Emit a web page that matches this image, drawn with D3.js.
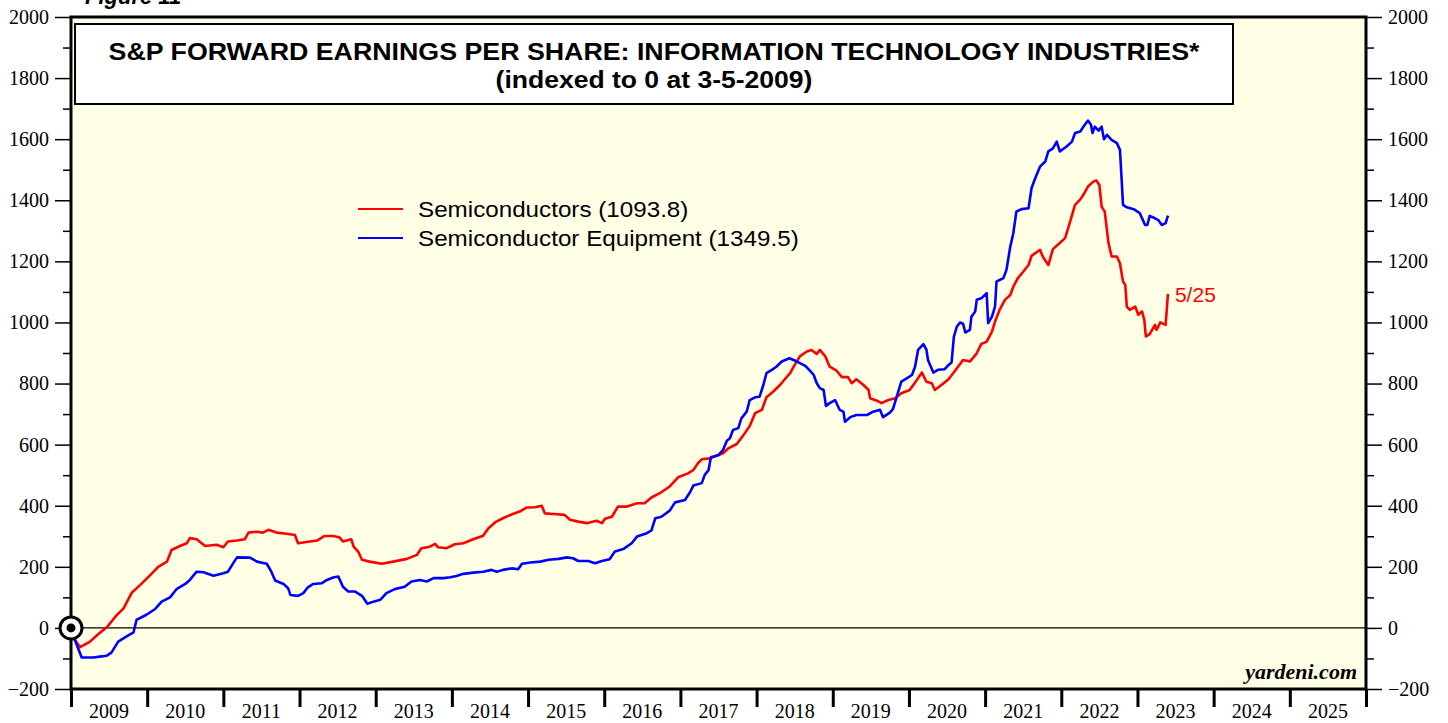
<!DOCTYPE html>
<html>
<head>
<meta charset="utf-8">
<script src="https://cdn.jsdelivr.net/npm/d3@7"></script>
<style>
  body { margin: 0; background: #fff; }
  svg { display: block; }
</style>
</head>
<body>
<div id="chart"></div>
<script>
// --- data (decimal year, index value) ---
const semi = [
  [2009.03,0],[2009.05,-39],[2009.12,-63],[2009.25,-45],[2009.36,-20],[2009.47,2],[2009.60,42],[2009.69,64],
  [2009.80,116],[2009.91,141],[2010.04,173],[2010.15,201],[2010.26,217],[2010.32,255],[2010.43,268],[2010.52,277],
  [2010.56,294],[2010.65,290],[2010.76,268],[2010.91,272],[2011.00,264],[2011.06,283],[2011.18,286],[2011.28,290],
  [2011.33,312],[2011.44,315],[2011.52,312],[2011.59,321],[2011.70,312],[2011.83,308],[2011.94,304],[2011.98,277],
  [2012.09,281],[2012.23,286],[2012.33,301],[2012.44,301],[2012.52,297],[2012.57,283],[2012.68,290],[2012.71,266],
  [2012.77,250],[2012.82,223],[2012.92,217],[2013.08,210],[2013.23,217],[2013.41,226],[2013.54,239],[2013.60,261],
  [2013.71,266],[2013.78,275],[2013.82,264],[2013.93,261],[2014.04,274],[2014.15,277],[2014.28,290],[2014.41,302],
  [2014.48,326],[2014.57,346],[2014.67,359],[2014.79,372],[2014.89,381],[2014.98,394],[2015.09,395],[2015.18,400],
  [2015.22,375],[2015.38,372],[2015.48,370],[2015.55,354],[2015.66,348],[2015.77,343],[2015.90,351],[2015.97,343],
  [2016.01,357],[2016.10,364],[2016.18,397],[2016.29,397],[2016.43,408],[2016.53,408],[2016.62,427],[2016.73,441],
  [2016.86,463],[2016.97,493],[2017.10,506],[2017.17,517],[2017.23,539],[2017.28,552],[2017.39,555],[2017.50,566],
  [2017.56,572],[2017.63,588],[2017.74,602],[2017.83,632],[2017.91,661],[2017.98,703],[2018.07,714],[2018.13,755],
  [2018.22,774],[2018.31,796],[2018.37,814],[2018.44,834],[2018.50,861],[2018.57,890],[2018.66,905],[2018.72,910],
  [2018.79,897],[2018.83,910],[2018.90,890],[2018.96,855],[2019.05,842],[2019.12,821],[2019.20,821],[2019.25,801],
  [2019.31,814],[2019.40,796],[2019.47,779],[2019.49,752],[2019.58,744],[2019.64,736],[2019.73,746],[2019.82,752],
  [2019.90,768],[2020.01,779],[2020.08,803],[2020.17,836],[2020.23,806],[2020.30,801],[2020.34,779],[2020.43,796],
  [2020.52,814],[2020.63,850],[2020.71,877],[2020.80,872],[2020.89,899],[2020.95,930],[2021.02,937],[2021.09,970],
  [2021.13,1003],[2021.19,1041],[2021.26,1074],[2021.33,1090],[2021.37,1117],[2021.43,1145],[2021.50,1166],
  [2021.57,1188],[2021.61,1218],[2021.72,1238],[2021.76,1214],[2021.83,1188],[2021.89,1240],[2021.98,1260],
  [2022.05,1276],[2022.11,1325],[2022.18,1385],[2022.25,1403],[2022.29,1418],[2022.35,1445],[2022.42,1461],
  [2022.46,1465],[2022.50,1450],[2022.53,1379],[2022.57,1363],[2022.62,1260],[2022.66,1216],[2022.73,1216],
  [2022.77,1194],[2022.81,1134],[2022.84,1123],[2022.86,1052],[2022.90,1041],[2022.97,1052],[2023.01,1025],
  [2023.06,1036],[2023.09,1008],[2023.11,954],[2023.16,962],[2023.23,992],[2023.25,976],[2023.30,1000],
  [2023.37,992],[2023.40,1093.8]
];

const equip = [
  [2009.03,0],[2009.05,-39],[2009.14,-97],[2009.29,-97],[2009.38,-94],[2009.47,-91],[2009.53,-81],[2009.62,-45],
  [2009.73,-28],[2009.82,-15],[2009.86,26],[2009.99,43],[2010.10,61],[2010.19,86],[2010.30,100],[2010.39,128],
  [2010.50,144],[2010.56,157],[2010.65,184],[2010.74,182],[2010.87,171],[2011.00,179],[2011.06,184],[2011.13,212],
  [2011.18,231],[2011.35,230],[2011.44,217],[2011.57,210],[2011.63,184],[2011.68,155],[2011.79,144],[2011.85,130],
  [2011.88,108],[2011.98,105],[2012.05,114],[2012.11,133],[2012.18,144],[2012.29,146],[2012.36,157],[2012.44,165],
  [2012.51,168],[2012.57,135],[2012.64,119],[2012.73,119],[2012.82,105],[2012.89,79],[2012.97,86],[2013.06,92],
  [2013.14,114],[2013.25,127],[2013.38,135],[2013.47,152],[2013.58,157],[2013.67,152],[2013.76,163],[2013.89,163],
  [2013.98,166],[2014.06,170],[2014.15,177],[2014.28,181],[2014.41,184],[2014.52,190],[2014.59,184],[2014.67,190],
  [2014.79,195],[2014.87,192],[2014.92,210],[2015.03,214],[2015.16,217],[2015.27,223],[2015.40,226],[2015.51,231],
  [2015.59,228],[2015.66,219],[2015.79,219],[2015.88,212],[2015.97,219],[2016.07,225],[2016.14,250],[2016.25,258],
  [2016.36,277],[2016.43,299],[2016.56,310],[2016.62,319],[2016.67,359],[2016.75,364],[2016.86,384],[2016.93,411],
  [2017.06,419],[2017.13,446],[2017.17,466],[2017.28,474],[2017.32,501],[2017.37,517],[2017.40,559],[2017.50,566],
  [2017.56,583],[2017.61,613],[2017.65,621],[2017.69,648],[2017.76,654],[2017.80,686],[2017.87,708],[2017.91,746],
  [2017.98,755],[2018.04,757],[2018.09,796],[2018.13,834],[2018.20,845],[2018.26,855],[2018.33,872],[2018.43,883],
  [2018.53,872],[2018.64,858],[2018.70,842],[2018.75,828],[2018.79,801],[2018.83,785],[2018.88,779],[2018.91,727],
  [2018.96,736],[2019.03,746],[2019.09,714],[2019.14,708],[2019.16,675],[2019.23,690],[2019.31,697],[2019.45,697],
  [2019.53,708],[2019.62,714],[2019.66,690],[2019.75,705],[2019.79,716],[2019.84,757],[2019.90,806],[2019.97,817],
  [2020.04,828],[2020.08,855],[2020.12,910],[2020.19,929],[2020.23,910],[2020.25,877],[2020.32,836],[2020.38,845],
  [2020.47,847],[2020.52,861],[2020.56,869],[2020.59,954],[2020.63,987],[2020.67,1000],[2020.71,996],[2020.74,967],
  [2020.80,976],[2020.82,1019],[2020.87,1036],[2020.89,1074],[2020.95,1079],[2021.02,1096],[2021.04,998],
  [2021.09,1019],[2021.13,1052],[2021.15,1134],[2021.24,1145],[2021.28,1172],[2021.33,1248],[2021.37,1292],
  [2021.41,1363],[2021.48,1371],[2021.57,1374],[2021.61,1440],[2021.65,1467],[2021.72,1510],[2021.79,1527],
  [2021.83,1560],[2021.89,1570],[2021.94,1592],[2021.98,1560],[2022.07,1576],[2022.14,1592],[2022.18,1620],
  [2022.25,1625],[2022.29,1641],[2022.35,1661],[2022.39,1647],[2022.41,1620],[2022.44,1641],[2022.49,1628],
  [2022.53,1641],[2022.56,1600],[2022.60,1614],[2022.66,1598],[2022.73,1587],[2022.77,1565],[2022.79,1478],
  [2022.81,1385],[2022.86,1377],[2022.95,1371],[2023.03,1358],[2023.10,1319],[2023.13,1319],[2023.16,1349],
  [2023.23,1341],[2023.27,1336],[2023.32,1319],[2023.37,1325],[2023.40,1349.5]
];

const yearLabels = [2009,2010,2011,2012,2013,2014,2015,2016,2017,2018,2019,2020,2021,2022,2023,2024,2025];
const yMajor = [-200,0,200,400,600,800,1000,1200,1400,1600,1800,2000];
const yMinor = [-100,100,300,500,700,900,1100,1300,1500,1700,1900];

const series = [
  { name: "Semiconductors (1093.8)",        values: semi,  color: "#ff0000" },
  { name: "Semiconductor Equipment (1349.5)", values: equip, color: "#0000ff" }
];

// --- sizing ---
const W = 1448, H = 723;
const plot = { left: 71, right: 1366, top: 17, bottom: 689 };

const svg = d3.select("#chart").append("svg")
  .attr("width", W).attr("height", H);

const x = d3.scaleLinear().domain([2009, 2026]).range([plot.left, plot.right]);
const y = d3.scaleLinear().domain([-200, 2000]).range([plot.bottom, plot.top]);

// original artwork is a bit wider than tall, so stretch some texts sideways
function widen(sel, k) {
  const len = sel.node().getComputedTextLength();
  sel.attr("textLength", len * k).attr("lengthAdjust", "spacingAndGlyphs");
}

const sans = "Liberation Sans, Arial, sans-serif";
const serif = "Liberation Serif, Times New Roman, serif";

// Figure label (clipped at top in the original)
svg.append("text")
  .attr("x", 85).attr("y", 4)
  .style("font-family", sans)
  .style("font-weight", "bold").style("font-style", "italic")
  .style("font-size", "22px")
  .text("Figure 11");

// plot background
svg.append("rect")
  .attr("x", plot.left).attr("y", plot.top)
  .attr("width", plot.right - plot.left).attr("height", plot.bottom - plot.top)
  .attr("fill", "#ffffe6");

// --- axes ---
function styleAxis(g) {
  g.select(".domain").remove();
  g.selectAll("line").attr("stroke", "#000").attr("stroke-width", 1.5);
  g.selectAll("text").style("font-family", serif).style("font-size", "20px").attr("fill", "#000");
}

svg.append("g").attr("transform", `translate(${plot.left},0)`)
  .call(d3.axisLeft(y).tickValues(yMajor).tickSize(16).tickPadding(6).tickFormat(d3.format("d")))
  .call(styleAxis);
svg.append("g").attr("transform", `translate(${plot.left},0)`)
  .call(d3.axisLeft(y).tickValues(yMinor).tickSize(8).tickFormat(""))
  .call(styleAxis);
svg.append("g").attr("transform", `translate(${plot.right},0)`)
  .call(d3.axisRight(y).tickValues(yMajor).tickSize(16).tickPadding(6).tickFormat(d3.format("d")))
  .call(styleAxis);
svg.append("g").attr("transform", `translate(${plot.right},0)`)
  .call(d3.axisRight(y).tickValues(yMinor).tickSize(8).tickFormat(""))
  .call(styleAxis);

// year boundary ticks
const bottomAxis = svg.append("g").attr("transform", `translate(0,${plot.bottom})`)
  .call(d3.axisBottom(x).tickValues(d3.range(2009, 2027)).tickSize(18).tickFormat(""))
  .call(styleAxis);
bottomAxis.selectAll("line").attr("stroke-width", 3);

// year labels centred in each year
svg.append("g").selectAll("text")
  .data(yearLabels).enter().append("text")
  .attr("x", d => x(d + 0.5))
  .attr("y", 718)
  .attr("text-anchor", "middle")
  .style("font-family", serif).style("font-size", "20px")
  .text(d => d);

// zero line
svg.append("line")
  .attr("x1", plot.left).attr("x2", plot.right)
  .attr("y1", y(0)).attr("y2", y(0))
  .attr("stroke", "#000").attr("stroke-width", 1.2);

// frame
svg.append("path")
  .attr("d", `M${plot.left},${plot.top}H${plot.right}V${plot.bottom}H${plot.left}Z`)
  .attr("fill", "none").attr("stroke", "#000").attr("stroke-width", 3);

// --- title box ---
svg.append("rect")
  .attr("x", 75).attr("y", 24).attr("width", 1158).attr("height", 80)
  .attr("fill", "#fff").attr("stroke", "#000").attr("stroke-width", 2);

svg.append("text")
  .attr("x", 654).attr("y", 60).attr("text-anchor", "middle")
  .style("font-family", sans).style("font-weight", "bold").style("font-size", "24px")
  .text("S&P FORWARD EARNINGS PER SHARE: INFORMATION TECHNOLOGY INDUSTRIES*")
  .call(widen, 1.115);
svg.append("text")
  .attr("x", 654).attr("y", 88).attr("text-anchor", "middle")
  .style("font-family", sans).style("font-weight", "bold").style("font-size", "24px")
  .text("(indexed to 0 at 3-5-2009)")
  .call(widen, 1.105);

// --- lines ---
const line = d3.line()
  .x(d => x(d[0]))
  .y(d => y(d[1]));

series.forEach(s => {
  svg.append("path")
    .attr("fill", "none")
    .attr("stroke", s.color)
    .attr("stroke-width", 2.6)
    .attr("stroke-linejoin", "round")
    .attr("d", line(s.values));
});

// start marker
svg.append("circle")
  .attr("cx", x(2009)).attr("cy", y(0)).attr("r", 11)
  .attr("fill", "#fff").attr("stroke", "#000").attr("stroke-width", 3);
svg.append("circle")
  .attr("cx", x(2009)).attr("cy", y(0)).attr("r", 4.5)
  .attr("fill", "#000");

// --- legend ---
const legend = svg.append("g").attr("transform", "translate(358,209)");
series.forEach((s, i) => {
  legend.append("line")
    .attr("x1", 0).attr("x2", 45)
    .attr("y1", i * 29).attr("y2", i * 29)
    .attr("stroke", s.color).attr("stroke-width", 2);
  legend.append("text")
    .attr("x", 60).attr("y", i * 29 + 8)
    .style("font-family", sans).style("font-size", "22px")
    .text(s.name)
    .call(widen, 1.1);
});

// end label
const last = semi[semi.length - 1];
svg.append("text")
  .attr("x", x(last[0]) + 7).attr("y", y(last[1]) + 8)
  .attr("fill", "#ff0000")
  .style("font-family", sans).style("font-size", "21px")
  .text("5/25");

// source
svg.append("text")
  .attr("x", plot.right - 9).attr("y", plot.bottom - 10)
  .attr("text-anchor", "end")
  .style("font-family", serif).style("font-weight", "bold").style("font-style", "italic")
  .style("font-size", "22px")
  .text("yardeni.com");
</script>
</body>
</html>
